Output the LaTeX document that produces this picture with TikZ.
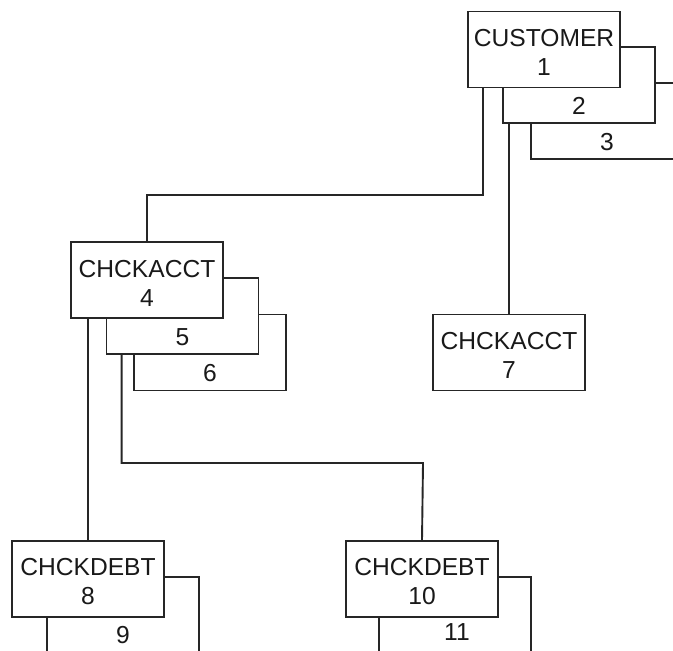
\documentclass[tikz,border=0pt]{standalone}
\usepackage{fontspec}
\setmainfont{Liberation Sans}
\begin{document}
\begin{tikzpicture}[x=0.5pt,y=-0.5pt,
  line width=0.95pt,
  conn/.style={draw=black!85, line width=0.95pt},
  seg/.style={draw=black!85, fill=white, line width=0.95pt, inner sep=0pt,
    minimum width=76pt, minimum height=38pt, rectangle},
  boxtext/.style={align=center, inner sep=0pt, font=\fontsize{12.3}{14.5}\selectfont, text=black!90},
  numlbl/.style={font=\fontsize{12.3}{14}\selectfont, inner sep=0pt, text=black!90}]
\useasboundingbox (0,0) rectangle (673,650);
\clip (0,0) rectangle (673,650);
% CUSTOMER segment group
\node[seg] (b3) at (607,121) {};
\node[seg] (b2) at (579,85) {};
\node[seg] (c1) at (544,49.5) {};
\node[boxtext] (t1) at ([yshift=-1.5pt]c1.center) {CUSTOMER\\1};
\node[numlbl] (l2) at ([yshift=9pt]b2.south) {2};
\node[numlbl] (l3) at ([yshift=9pt]b3.south) {3};
% CHCKACCT 4 group
\node[seg] (b6) at (210,352.5) {};
\node[seg] (b5) at (182.5,316) {};
\node[seg] (c4) at (147,280) {};
\node[boxtext] (t4) at ([yshift=-1.5pt]c4.center) {CHCKACCT\\4};
\node[numlbl] (l5) at ([yshift=9pt]b5.south) {5};
\node[numlbl] (l6) at ([yshift=9pt]b6.south) {6};
% CHCKACCT 7
\node[seg] (c7) at (509,352.5) {};
\node[boxtext] (t7) at ([yshift=-1.5pt]c7.center) {CHCKACCT\\7};
% CHCKDEBT 8 group
\node[seg] (b9) at (123,615) {};
\node[seg] (c8) at (88,579) {};
\node[boxtext] (t8) at ([yshift=-1.5pt]c8.center) {CHCKDEBT\\8};
\node[numlbl] (l9) at (123,635) {9};
% CHCKDEBT 10 group
\node[seg] (b11) at (455,615) {};
\node[seg] (c10) at (422,579) {};
\node[boxtext] (t10) at ([yshift=-1.5pt]c10.center) {CHCKDEBT\\10};
\node[numlbl] (l11) at (457,632) {11};
% connectors
\coordinate (j1) at (147,195);
\coordinate (j2) at (423,463);
\draw[conn] ([xshift=8pt]c1.south west) |- (j1) -- (c4.north);
\draw[conn] (c7.north |- b2.south) -- (c7.north);
\draw[conn] (c8.north |- c4.south) -- (c8.north);
\draw[conn] ([xshift=8pt]b5.south west) |- (j2) -- (c10.north);
\end{tikzpicture}
\end{document}
